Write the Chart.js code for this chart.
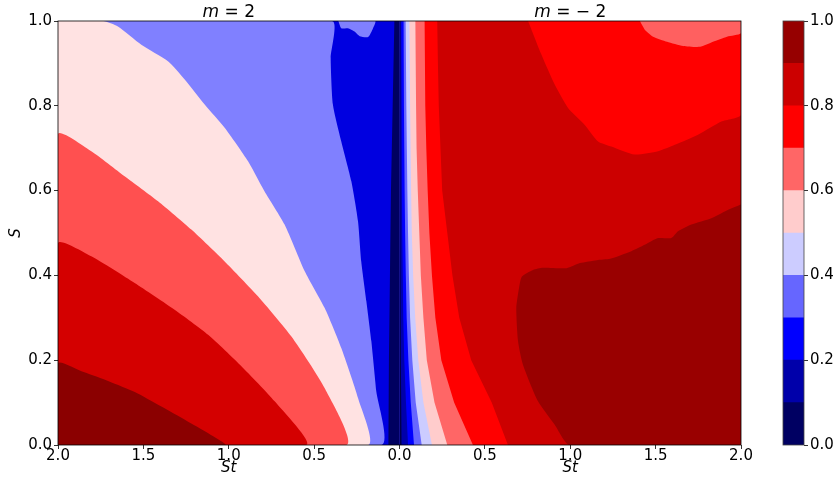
<!DOCTYPE html>
<html>
<head>
<meta charset="utf-8">
<script src="https://cdn.jsdelivr.net/npm/chart.js@4.4.0/dist/chart.umd.min.js"></script>
<style>
  html, body { margin: 0; padding: 0; background: #fff; }
  #wrap { position: relative; width: 835px; height: 483px; }
  #chart { position: absolute; left: 0; top: 0; }
  #cbar { position: absolute; left: 760px; top: 0; }
</style>
</head>
<body>
<div id="wrap">
  <canvas id="chart" width="835" height="483"></canvas>
  <canvas id="cbar" width="75" height="483"></canvas>
</div>
<script>
// ticks: left half is St for m = 2 (drawn at -St), right half St for m = -2
const xTicks = [-2, -1.5, -1, -0.5, 0, 0.5, 1, 1.5, 2];
const yTicks = [0, 0.2, 0.4, 0.6, 0.8, 1.0];
const panelTitles = [['m', ' = 2'], ['m', ' = \u2212 2']];

// colour bar
const cbarLevels = [0, 0.1, 0.2, 0.3, 0.4, 0.5, 0.6, 0.7, 0.8, 0.9, 1.0];
const cbarColors = ['#000062', '#0000aa', '#0000ff', '#6666ff', '#ccccff',
                    '#ffcccc', '#ff6666', '#ff0000', '#cc0000', '#960000'];
const cbarTicks = [0, 0.2, 0.4, 0.6, 0.8, 1.0];

// m = 2 panel: contour edges as [-St, S]
const leftBlue = [[-0.03, 1], [-0.04, 0.8], [-0.05, 0.6], [-0.056, 0.4], [-0.062, 0.2], [-0.065, 0]];
const leftLavender = [[-0.395, 1], [-0.403, 0.913], [-0.39, 0.803], [-0.341, 0.716], [-0.282, 0.622],
  [-0.243, 0.528], [-0.224, 0.433], [-0.194, 0.339], [-0.165, 0.245], [-0.136, 0.127], [-0.106, 0]];
const leftBump = [[-0.358, 1], [-0.341, 0.983], [-0.302, 0.983], [-0.263, 0.975], [-0.233, 0.964],
  [-0.184, 0.962], [-0.155, 0.983], [-0.142, 1]];
const leftPink = [[-1.736, 1], [-1.649, 0.987], [-1.512, 0.944], [-1.356, 0.905], [-1.258, 0.862],
  [-1.141, 0.803], [-1.024, 0.748], [-0.887, 0.669], [-0.79, 0.598], [-0.673, 0.52], [-0.555, 0.41],
  [-0.438, 0.323], [-0.341, 0.229], [-0.243, 0.111], [-0.184, 0]];
const leftSalmon = [[-2, 0.733], [-1.805, 0.693], [-1.61, 0.634], [-1.414, 0.575], [-1.219, 0.508],
  [-1.024, 0.433], [-0.829, 0.351], [-0.633, 0.256], [-0.438, 0.134], [-0.311, 0]];
const leftRed = [[-2, 0.476], [-1.805, 0.445], [-1.551, 0.382], [-1.317, 0.319], [-1.121, 0.26],
  [-0.926, 0.186], [-0.731, 0.103], [-0.546, 0]];
const leftDark = [[-2, 0.193], [-1.85, 0.172], [-1.7, 0.15], [-1.55, 0.125], [-1.4, 0.092],
  [-1.25, 0.058], [-1.12, 0.028], [-1.02, 0]];

// m = -2 panel: bands next to St = 0, St of each edge at these S
const sLevels = [0, 0.1, 0.2, 0.3, 0.4, 0.5, 0.6, 0.7, 0.8, 0.9, 1.0];
const rightRed    = [0.635, 0.54, 0.42, 0.35, 0.31, 0.28, 0.25, 0.24, 0.23, 0.225, 0.221];
const rightSalmon = [0.43, 0.32, 0.245, 0.21, 0.19, 0.175, 0.165, 0.157, 0.151, 0.149, 0.147];
const rightPink   = [0.28, 0.205, 0.16, 0.14, 0.125, 0.116, 0.107, 0.1, 0.097, 0.095, 0.093];
const rightLilac  = [0.19, 0.14, 0.11, 0.092, 0.08, 0.072, 0.068, 0.065, 0.062, 0.06, 0.058];
const rightPeri   = [0.13, 0.095, 0.075, 0.062, 0.055, 0.05, 0.046, 0.043, 0.04, 0.038, 0.036];
const rightBlue   = [0.085, 0.066, 0.052, 0.042, 0.037, 0.033, 0.03, 0.028, 0.026, 0.025, 0.024];
const rightMid    = [0.05, 0.038, 0.028, 0.022, 0.019, 0.016, 0.014, 0.013, 0.012, 0.011, 0.01];
const rightNavy   = [0.012, 0.01, 0.008, 0.007, 0.006, 0.005, 0.005, 0.004, 0.004, 0.004, 0.004];
// m = -2 panel: islands as [St, S]
const rightTopRed = [[0.753, 1], [0.831, 0.921], [0.909, 0.85], [0.987, 0.795], [1.085, 0.755],
  [1.163, 0.716], [1.241, 0.704], [1.377, 0.685], [1.514, 0.693], [1.612, 0.708], [1.748, 0.732],
  [1.885, 0.763], [2, 0.779]];
const rightCorner = [[1.408, 1], [1.438, 0.979], [1.485, 0.963], [1.567, 0.951], [1.661, 0.941],
  [1.76, 0.939], [1.836, 0.951], [1.918, 0.963], [2, 0.971]];
const rightDark = [[2, 0.567], [1.905, 0.551], [1.826, 0.535], [1.709, 0.52], [1.631, 0.504],
  [1.592, 0.488], [1.514, 0.488], [1.436, 0.472], [1.358, 0.457], [1.233, 0.439], [1.155, 0.436],
  [1.057, 0.429], [0.979, 0.417], [0.84, 0.418], [0.782, 0.413], [0.716, 0.397], [0.7, 0.37],
  [0.684, 0.323], [0.694, 0.245], [0.723, 0.189], [0.811, 0.103], [0.909, 0.048], [0.997, 0]];

const FONT = 'DejaVu Sans';
Chart.defaults.font.family = FONT;
Chart.defaults.color = '#000';

// polygons closed back to their first point
const close = pts => pts.concat([pts[0]]);
const leftRegion = edge => close([[-2, 0]].concat(edge[0][1] === 1 ? [[-2, 1]] : [], edge));
const bandRegion = xs => close([[0, 0]].concat(xs.map((x, i) => [x, sLevels[i]]), [[0, 1]]));

// [polygon, colour, smoothed] -- only shapes whose straight sides lie on the frame get smoothed
const layers = [
  [close([[2, 0], [-2, 0], [-2, 1], [2, 1]]), '#000060', false],
  [leftRegion(leftBlue), '#0000e0', false],
  [leftRegion(leftLavender), '#8080ff', true],
  [close(leftBump), '#8080ff', true],
  [leftRegion(leftPink), '#ffe2e2', true],
  [leftRegion(leftSalmon), '#ff5050', true],
  [leftRegion(leftRed), '#d40000', true],
  [leftRegion(leftDark), '#8b0000', true],
  [close([[2, 0], [0, 0], [0, 1], [2, 1]]), '#cc0000', false],
  [bandRegion(rightRed), '#ff0000', false],
  [bandRegion(rightSalmon), '#ff6666', false],
  [bandRegion(rightPink), '#ffcccc', false],
  [bandRegion(rightLilac), '#ccccff', false],
  [bandRegion(rightPeri), '#6666ff', false],
  [bandRegion(rightBlue), '#0000ff', false],
  [bandRegion(rightMid), '#0000aa', false],
  [bandRegion(rightNavy), '#00004c', false],
  [close(rightTopRed.concat([[2, 1]])), '#ff0000', true],
  [close(rightCorner.concat([[2, 1]])), '#ff6060', true],
  [close(rightDark.concat([[2, 0]])), '#990000', true]
];

const datasets = layers.map(([pts, color, smooth], i) => ({
  data: pts.map(p => ({x: p[0], y: p[1]})),
  backgroundColor: color,
  fill: 'shape',
  borderWidth: 0,
  borderDash: [1],
  tension: smooth ? 0.2 : 0,
  pointRadius: 0,
  order: layers.length - i
}));

function drawMath(ctx, parts, fonts, cx, cy) {
  let w = 0;
  parts.forEach((t, i) => { ctx.font = fonts[i]; w += ctx.measureText(t).width; });
  let xx = cx - w / 2;
  parts.forEach((t, i) => {
    ctx.font = fonts[i];
    ctx.fillText(t, xx, cy);
    xx += ctx.measureText(t).width;
  });
}

const decorations = {
  id: 'decorations',
  afterDraw(chart) {
    const {ctx, chartArea: a, scales: {x}} = chart;
    ctx.save();
    ctx.strokeStyle = '#000';
    ctx.lineWidth = 0.8;
    ctx.strokeRect(a.left, a.top, a.right - a.left, a.bottom - a.top);
    ctx.fillStyle = '#000';
    ctx.textBaseline = 'alphabetic';
    ctx.textAlign = 'left';
    const centres = [x.getPixelForValue(-1), x.getPixelForValue(1)];
    panelTitles.forEach((t, i) => {
      drawMath(ctx, t, ['italic 17px "' + FONT + '"', '17px "' + FONT + '"'], centres[i], 17);
      drawMath(ctx, ['St'], ['italic 15px "' + FONT + '"'], centres[i], 472);
    });
    ctx.translate(16, (a.top + a.bottom) / 2);
    ctx.rotate(-Math.PI / 2);
    ctx.textAlign = 'center';
    ctx.textBaseline = 'middle';
    ctx.font = 'italic 15px "' + FONT + '"';
    ctx.fillText('S', 0, 0);
    ctx.restore();
  }
};

new Chart(document.getElementById('chart'), {
  type: 'line',
  data: { datasets },
  options: {
    responsive: false,
    animation: false,
    events: [],
    layout: { padding: { top: 21, right: 94, bottom: 0, left: 0 } },
    plugins: { legend: { display: false }, tooltip: { enabled: false } },
    scales: {
      x: {
        type: 'linear', min: -2, max: 2,
        afterBuildTicks: s => { s.ticks = xTicks.map(v => ({value: v})); },
        afterFit: s => { s.height = 38; },
        grid: { drawOnChartArea: false, tickLength: 4, color: '#000', lineWidth: 0.8 },
        border: { display: false },
        ticks: { padding: -1.5, autoSkip: false, maxRotation: 0, font: { size: 15 },
                 callback: v => Math.abs(v).toFixed(1) }
      },
      y: {
        type: 'linear', min: 0, max: 1,
        afterBuildTicks: s => { s.ticks = yTicks.map(v => ({value: v})); },
        afterFit: s => { s.width = 58; },
        grid: { drawOnChartArea: false, tickLength: 4, color: '#000', lineWidth: 0.8 },
        border: { display: false },
        ticks: { padding: 2, font: { size: 15 }, callback: v => v.toFixed(1) }
      }
    }
  },
  plugins: [decorations]
});

const cbarFrame = {
  id: 'cbarFrame',
  afterDraw(chart) {
    const {ctx, chartArea: a} = chart;
    ctx.save();
    ctx.strokeStyle = '#444';
    ctx.lineWidth = 0.8;
    ctx.strokeRect(a.left, a.top, a.right - a.left, a.bottom - a.top);
    ctx.restore();
  }
};

new Chart(document.getElementById('cbar'), {
  type: 'bar',
  data: {
    labels: [''],
    datasets: cbarColors.map((c, i) => ({
      data: [cbarLevels[i + 1] - cbarLevels[i]],
      backgroundColor: c,
      borderWidth: 0,
      barPercentage: 1,
      categoryPercentage: 1
    }))
  },
  options: {
    responsive: false,
    animation: false,
    events: [],
    layout: { padding: { top: 21, right: 0, bottom: 38, left: 23 } },
    plugins: { legend: { display: false }, tooltip: { enabled: false } },
    scales: {
      x: { stacked: true, display: false },
      y: {
        stacked: true, position: 'right', min: 0, max: 1,
        afterBuildTicks: s => { s.ticks = cbarTicks.map(v => ({value: v})); },
        afterFit: s => { s.width = 31; },
        grid: { drawOnChartArea: false, tickLength: 4, color: '#000', lineWidth: 0.8 },
        border: { display: false },
        ticks: { padding: 2, font: { size: 15 }, callback: v => v.toFixed(1) }
      }
    }
  },
  plugins: [cbarFrame]
});
</script>
</body>
</html>
